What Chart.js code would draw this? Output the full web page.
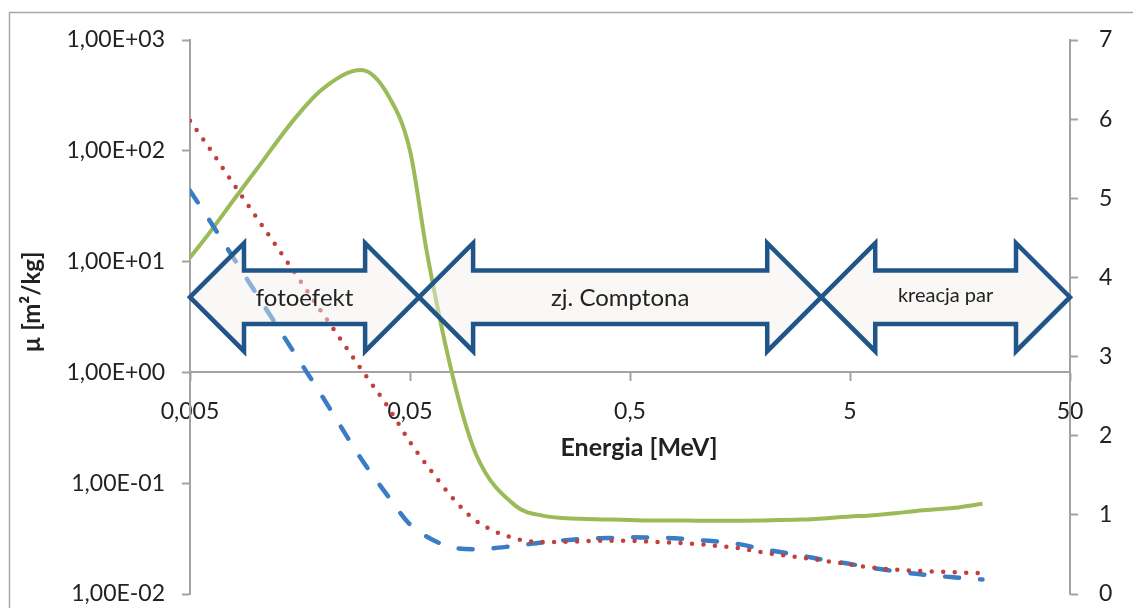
<!DOCTYPE html>
<html lang="pl">
<head>
<meta charset="utf-8">
<title>Współczynnik osłabienia promieniowania</title>
<script src="https://cdn.jsdelivr.net/npm/chart.js@4/dist/chart.umd.min.js"></script>
<style>
  html, body { margin: 0; padding: 0; background: #ffffff; }
  #wrap { position: relative; width: 1133px; height: 608px; }
</style>
</head>
<body>
<div id="wrap"><canvas id="chart" width="1133" height="608"></canvas></div>
<script>
// Photon energies [MeV]
const energies = [0.005, 0.006, 0.008, 0.01, 0.015, 0.02, 0.03, 0.04, 0.05, 0.06, 0.08, 0.1,
  0.15, 0.2, 0.3, 0.4, 0.5, 0.6, 0.8, 1, 1.25, 1.5, 2, 3, 4, 5, 6, 8, 10, 15, 20];

// Mass attenuation coefficient (left axis, red dotted)
const muTotal = [187, 112, 48.1, 25.3, 7.86, 3.43, 1.07, 0.477, 0.235, 0.143, 0.0698, 0.0456,
  0.0317, 0.0294, 0.0299, 0.0303, 0.0301, 0.0298, 0.029, 0.0283, 0.0271, 0.0262, 0.0238, 0.0213,
  0.0197, 0.0185, 0.0175, 0.0166, 0.0162, 0.0157, 0.0154];

// Mass energy-absorption coefficient (left axis, blue dashed)
const muAbsorption = [43.6, 25.2, 10.3, 5.15, 1.47, 0.604, 0.166, 0.075, 0.0424, 0.0327, 0.026, 0.0254,
  0.0272, 0.0292, 0.0313, 0.032, 0.0325, 0.0323, 0.0318, 0.0307, 0.0298, 0.0286, 0.0255, 0.0222,
  0.02, 0.0187, 0.0174, 0.0161, 0.0152, 0.0141, 0.0135];

// Ratio of the two coefficients (right axis, green solid)
const ratio = [4.25, 4.53, 5.0, 5.36, 6.01, 6.38, 6.62, 6.29, 5.6, 4.28, 2.64, 1.76,
  1.12, 0.99, 0.95, 0.94, 0.935, 0.93, 0.93, 0.926, 0.926, 0.926, 0.93, 0.94,
  0.96, 0.98, 0.99, 1.02, 1.05, 1.09, 1.14];

// Axis ticks
const leftTickValues = [0.01, 0.1, 1, 10, 100, 1000];
const leftTickLabels = ['1,00E-02', '1,00E-01', '1,00E+00', '1,00E+01', '1,00E+02', '1,00E+03'];
const xTickValues = [0.005, 0.05, 0.5, 5, 50];
const xTickLabels = ['0,005', '0,05', '0,5', '5', '50'];
const rightTickValues = [0, 1, 2, 3, 4, 5, 6, 7];
const rightTickLabels = ['0', '1', '2', '3', '4', '5', '6', '7'];

// Interaction regions shown as double arrows (energy limits in MeV)
const regionNames = ['fotoefekt', 'zj. Comptona', 'kreacja par'];
const regionBounds = [0.005, 0.055, 3.7, 50];
const regionLevel = 3.75; // right-axis value of the arrow centre line

const axisGray = '#a3a3a3';
const textColor = '#222222';
const tickFont = { family: 'Lato', size: 23 };

function pts(values) {
  return energies.map((e, i) => ({ x: e, y: values[i] }));
}

// vertical axes: keep the plot area fixed, labels may overhang into the margins
function fixVertical(width) {
  return s => { s.width = width; s.paddingTop = 0; s.paddingBottom = 0; };
}

function doubleArrowPath(ctx, x0, x1, yc) {
  const headLen = 54, headHalf = 54, shaftHalf = 26.7;
  ctx.beginPath();
  ctx.moveTo(x0, yc);
  ctx.lineTo(x0 + headLen, yc - headHalf);
  ctx.lineTo(x0 + headLen, yc - shaftHalf);
  ctx.lineTo(x1 - headLen, yc - shaftHalf);
  ctx.lineTo(x1 - headLen, yc - headHalf);
  ctx.lineTo(x1, yc);
  ctx.lineTo(x1 - headLen, yc + headHalf);
  ctx.lineTo(x1 - headLen, yc + shaftHalf);
  ctx.lineTo(x0 + headLen, yc + shaftHalf);
  ctx.lineTo(x0 + headLen, yc + headHalf);
  ctx.closePath();
}

const decorations = {
  id: 'decorations',
  beforeDraw(chart) {
    const ctx = chart.ctx;
    ctx.save();
    ctx.fillStyle = '#ffffff';
    ctx.fillRect(0, 0, chart.width, chart.height);
    ctx.strokeStyle = '#a6a6a6';
    ctx.lineWidth = 1.5;
    ctx.strokeRect(9.5, 12.5, chart.width + 20, chart.height + 20);
    ctx.restore();
  },
  afterDatasetsDraw(chart) {
    const ctx = chart.ctx;
    const xs = chart.scales.x;
    const yc = chart.scales.y1.getPixelForValue(regionLevel);
    ctx.save();
    regionNames.forEach((name, i) => {
      const x0 = xs.getPixelForValue(regionBounds[i]);
      const x1 = xs.getPixelForValue(regionBounds[i + 1]);
      doubleArrowPath(ctx, x0, x1, yc);
      ctx.fillStyle = 'rgba(243, 240, 236, 0.45)';
      ctx.fill();
      ctx.lineWidth = 4.5;
      ctx.lineJoin = 'miter';
      ctx.miterLimit = 10;
      ctx.strokeStyle = '#1f5589';
      ctx.stroke();
      ctx.fillStyle = textColor;
      ctx.textAlign = 'center';
      ctx.textBaseline = 'middle';
      ctx.font = (i === 2 ? '20px' : '24px') + ' Lato';
      ctx.fillText(name, (x0 + x1) / 2, yc + (i === 2 ? -2 : 1));
    });
    ctx.restore();
  },
  afterDraw(chart) {
    const ctx = chart.ctx;
    const area = chart.chartArea;
    const axisY = chart.scales.y.getPixelForValue(1);
    ctx.save();
    ctx.fillStyle = textColor;
    ctx.textAlign = 'center';
    ctx.textBaseline = 'middle';
    ctx.font = 'bold 25px Lato';
    ctx.fillText('Energia [MeV]', (area.left + area.right) / 2 + 9, axisY + 76);
    ctx.translate(32, (area.top + area.bottom) / 2 - 15);
    ctx.rotate(-Math.PI / 2);
    ctx.font = 'bold 24px Lato';
    ctx.fillText('\u00b5 [m\u00b2/kg]', 0, 0);
    ctx.restore();
  }
};

new Chart(document.getElementById('chart'), {
  type: 'line',
  data: {
    datasets: [
      {
        label: 'mu/rho',
        data: pts(muTotal),
        yAxisID: 'y',
        borderColor: '#c2403a',
        borderWidth: 4.5,
        borderDash: [0, 11.5],
        borderCapStyle: 'round',
        pointRadius: 0,
        cubicInterpolationMode: 'monotone',
        fill: false
      },
      {
        label: 'mu_en/rho',
        data: pts(muAbsorption),
        yAxisID: 'y',
        borderColor: '#3a7dc5',
        borderWidth: 4.5,
        borderDash: [14, 21],
        borderCapStyle: 'round',
        pointRadius: 0,
        cubicInterpolationMode: 'monotone',
        fill: false
      },
      {
        label: 'ratio',
        data: pts(ratio),
        yAxisID: 'y1',
        borderColor: '#9bbb59',
        borderWidth: 4,
        pointRadius: 0,
        cubicInterpolationMode: 'monotone',
        fill: false
      }
    ]
  },
  options: {
    responsive: false,
    animation: false,
    events: [],
    layout: { padding: { top: 40, bottom: 14, left: 0, right: 0 } },
    plugins: { legend: { display: false }, tooltip: { enabled: false }, title: { display: false } },
    scales: {
      x: {
        type: 'logarithmic',
        min: 0.005,
        max: 50,
        position: { y: 1 },
        afterBuildTicks: s => { s.ticks = xTickValues.map(v => ({ value: v })); },
        ticks: {
          callback: (v, i) => xTickLabels[i],
          font: tickFont,
          color: textColor,
          padding: 17,
          maxRotation: 0,
          autoSkip: false
        },
        grid: { display: true, drawOnChartArea: false, tickLength: 8, tickColor: axisGray, tickWidth: 2 },
        border: { display: true, color: axisGray, width: 2 },
        title: { display: false }
      },
      y: {
        type: 'logarithmic',
        position: 'left',
        min: 0.01,
        max: 1000,
        afterBuildTicks: s => { s.ticks = leftTickValues.map(v => ({ value: v })); },
        afterFit: fixVertical(190),
        ticks: {
          callback: (v, i) => leftTickLabels[i],
          font: tickFont,
          color: textColor,
          padding: 17,
          autoSkip: false
        },
        grid: { display: true, drawOnChartArea: false, tickLength: 8, tickColor: axisGray, tickWidth: 2 },
        border: { display: true, color: axisGray, width: 2 }
      },
      y1: {
        type: 'linear',
        position: 'right',
        min: 0,
        max: 7,
        afterBuildTicks: s => { s.ticks = rightTickValues.map(v => ({ value: v })); },
        afterFit: fixVertical(63),
        ticks: {
          callback: (v, i) => rightTickLabels[i],
          font: tickFont,
          color: textColor,
          padding: 21,
          autoSkip: false
        },
        grid: { display: true, drawOnChartArea: false, tickLength: 8, tickColor: axisGray, tickWidth: 2 },
        border: { display: true, color: axisGray, width: 2 }
      }
    }
  },
  plugins: [decorations]
});
</script>
</body>
</html>
